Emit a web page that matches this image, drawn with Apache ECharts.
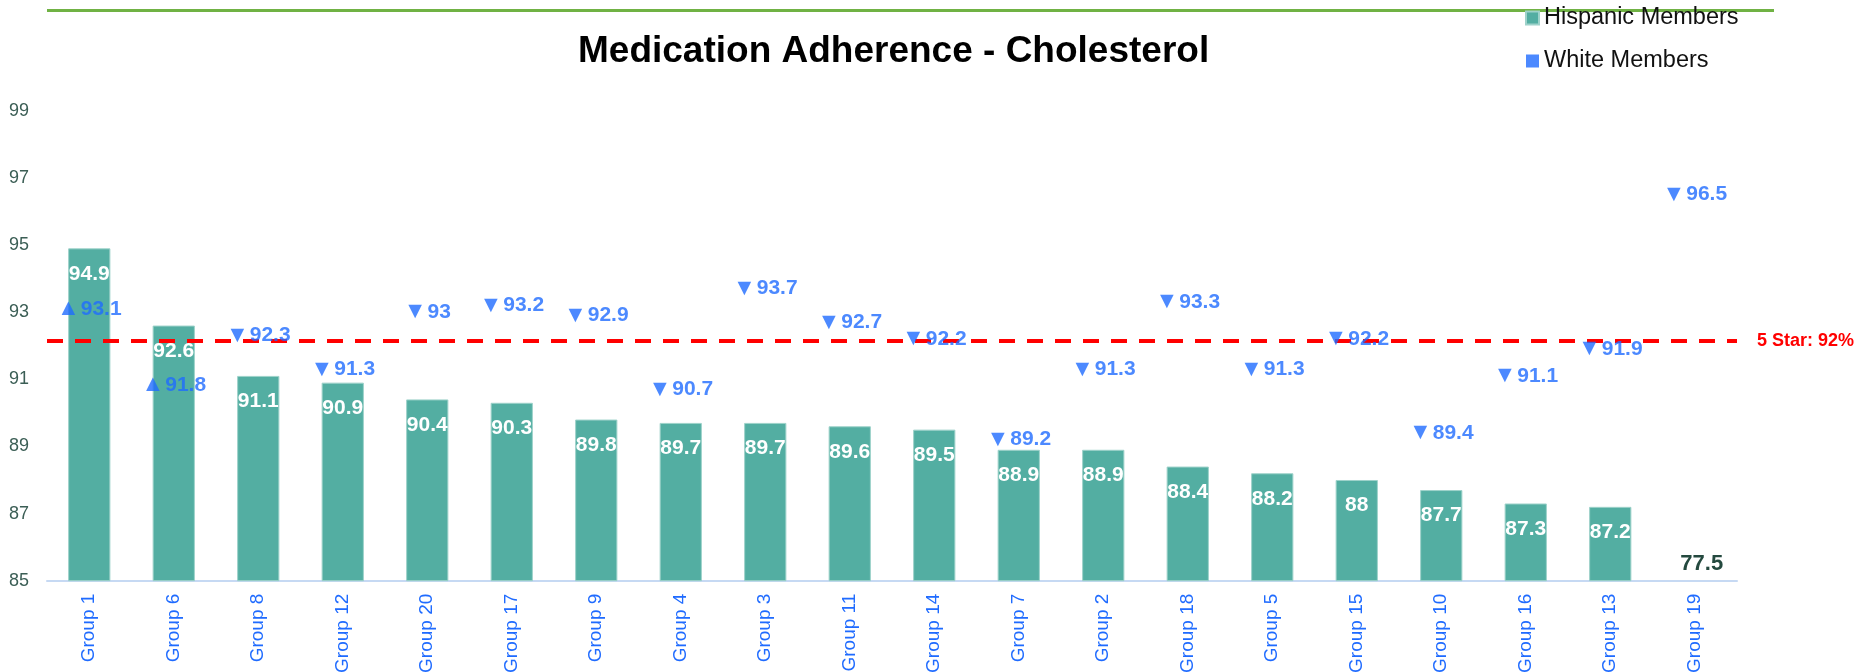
<!DOCTYPE html>
<html>
<head>
<meta charset="utf-8">
<script src="https://cdn.jsdelivr.net/npm/echarts@6/dist/echarts.min.js"></script>
<style>
  html, body { margin: 0; padding: 0; background: #ffffff; }
  #chart { width: 1860px; height: 672px; }
</style>
</head>
<body>
<div id="chart"></div>
<script>
const categories = ['Group 1','Group 6','Group 8','Group 12','Group 20','Group 17','Group 9','Group 4','Group 3','Group 11','Group 14','Group 7','Group 2','Group 18','Group 5','Group 15','Group 10','Group 16','Group 13','Group 19'];
const hispanicMembers = [94.9, 92.6, 91.1, 90.9, 90.4, 90.3, 89.8, 89.7, 89.7, 89.6, 89.5, 88.9, 88.9, 88.4, 88.2, 88, 87.7, 87.3, 87.2, 77.5];
const whiteMembers = [93.1, 91.8, 92.3, 91.3, 93, 93.2, 92.9, 90.7, 93.7, 92.7, 92.2, 89.2, 91.3, 93.3, 91.3, 92.2, 89.4, 91.1, 91.9, 96.5];
const fiveStarLine = 92.15;
const fiveStarLabel = '5 Star: 92%';
const yTicks = { min: 85, max: 99, interval: 2 };

const FONT = 'Liberation Sans, Arial, sans-serif';
const TEAL = '#53aea2';
const BLUE = '#1f6bff';
const BAR_LABEL_DIST = 15;
const BAR_LABEL_SIZE = 21;

const chart = echarts.init(document.getElementById('chart'), null, { renderer: 'canvas' });

// values below the axis minimum get their label drawn at the axis floor
const belowMin = hispanicMembers
  .map((v, i) => ({ v, i }))
  .filter(d => d.v < yTicks.min)
  .map(d => ({ coord: [categories[d.i], yTicks.min], value: d.v }));

// keep a White label from sitting on top of the bar's own value label
function whiteLabelLayout(params) {
  const i = params.dataIndex;
  const h = hispanicMembers[i];
  if (h < yTicks.min) return {};
  const top = chart.convertToPixel({ gridIndex: 0 }, [i, h]);
  if (!top) return {};
  const barLblTop = top[1] + BAR_LABEL_DIST;
  const barLblBottom = barLblTop + BAR_LABEL_SIZE + 4;
  const r = params.labelRect;
  if (r.y < barLblBottom && r.y + r.height > barLblTop) {
    return { dy: barLblBottom + 8 - r.y };
  }
  return {};
}

const option = {
  backgroundColor: '#ffffff',
  animation: false,
  textStyle: { fontFamily: FONT },
  title: {
    text: 'Medication Adherence - Cholesterol',
    left: 573,
    top: 28,
    textStyle: { fontFamily: FONT, fontSize: 37, fontWeight: 'bold', color: '#000000' }
  },
  graphic: [{
    type: 'line',
    z: -10,
    shape: { x1: 47, y1: 10.5, x2: 1774, y2: 10.5 },
    style: { stroke: '#70b244', lineWidth: 3 }
  }],
  legend: {
    orient: 'vertical',
    left: 1520,
    top: 1,
    itemWidth: 13,
    itemHeight: 13,
    itemGap: 19,
    textStyle: { fontFamily: FONT, fontSize: 23.5, color: '#111111' },
    data: [
      { name: 'Hispanic Members', icon: 'rect', itemStyle: { color: TEAL } },
      { name: 'White Members', icon: 'rect', itemStyle: { color: BLUE } }
    ]
  },
  grid: { left: 47, right: 123, top: 110.7, bottom: 91.3, containLabel: false, outerBoundsMode: 'none' },
  xAxis: {
    type: 'category',
    data: categories,
    axisTick: { show: false },
    axisLine: { lineStyle: { color: '#c6d9f3', width: 2 } },
    axisLabel: { rotate: 90, color: BLUE, fontSize: 19, fontFamily: FONT, margin: 13, interval: 0 }
  },
  yAxis: {
    type: 'value',
    min: yTicks.min,
    max: yTicks.max,
    interval: yTicks.interval,
    axisLine: { show: false },
    axisTick: { show: false },
    splitLine: { show: false },
    axisLabel: { color: '#3b5e55', fontSize: 18, fontFamily: FONT, margin: 18 }
  },
  series: [
    {
      name: 'Hispanic Members',
      type: 'bar',
      data: hispanicMembers,
      barWidth: '50%',
      itemStyle: { color: TEAL, borderColor: '#9ed2ca', borderWidth: 1 },
      label: {
        show: true,
        position: 'insideTop',
        distance: BAR_LABEL_DIST,
        color: '#ffffff',
        fontSize: BAR_LABEL_SIZE,
        fontWeight: 'bold',
        fontFamily: FONT
      },
      markLine: {
        silent: true,
        symbol: 'none',
        lineStyle: { color: '#ff0000', type: [16, 12], width: 4 },
        label: {
          position: 'end',
          distance: 20,
          formatter: fiveStarLabel,
          color: '#ff0000',
          fontSize: 18,
          fontWeight: 'bold',
          fontFamily: FONT
        },
        data: [{ yAxis: fiveStarLine }]
      },
      markPoint: {
        symbol: 'circle',
        symbolSize: 0,
        label: {
          show: true,
          position: 'top',
          distance: 6,
          offset: [7, 0],
          formatter: p => String(p.value),
          color: '#24493f',
          fontSize: 22,
          fontWeight: 'bold',
          fontFamily: FONT
        },
        data: belowMin
      }
    },
    {
      name: 'White Members',
      type: 'scatter',
      data: whiteMembers,
      symbol: 'circle',
      symbolSize: 1,
      itemStyle: { color: 'rgba(0,0,0,0)' },
      z: 5,
      labelLayout: whiteLabelLayout,
      label: {
        show: true,
        position: 'inside',
        formatter: p => {
          const up = hispanicMembers[p.dataIndex] > p.value;
          return '{t|' + (up ? '\u25B2' : '\u25BC') + '}{v|' + p.value + '}';
        },
        rich: {
          t: { color: BLUE, fontSize: 23, fontFamily: FONT, padding: [0, 1, 0, 0] },
          v: { color: BLUE, fontSize: 21, fontWeight: 'bold', fontFamily: FONT }
        }
      }
    }
  ]
};

chart.setOption(option);
</script>
</body>
</html>
